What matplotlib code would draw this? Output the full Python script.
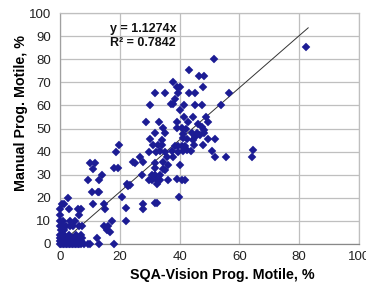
import matplotlib
matplotlib.use("Agg")
import matplotlib.pyplot as plt
import numpy as np

plt.rcParams['font.family'] = ['Liberation Sans', 'DejaVu Sans']

# Data (SQA-Vision %, Manual %)
sqa_x = [
    0, 0.5, 1, 1.5, 2, 2.5, 3, 3.5, 4, 4.5, 5, 5.5, 6, 6.5, 7, 8, 9.2, 10.1, 13.1, 18.1,
    0, 0.5, 1, 2, 3, 4, 5, 6, 7,
    0, 1, 2, 4, 5, 6, 7.5, 12.3,
    0, 0.5, 1.5, 3, 5.5, 7, 16.6,
    0.5, 1.2, 15.6,
    0, 1, 2, 3.3, 4.5, 6.2, 7.3, 14.6, 16,
    0, 1, 3.4, 5.1, 17.3, 22.1,
    0, 6.2,
    0, 2.9, 6.1, 7, 15, 22.1, 27.9,
    0.6, 1.2, 11.2, 14.6, 27.9, 31.8, 32.5,
    2.6, 20.6, 39.9,
    10.6, 12.8, 13.2,
    22.3, 22.9, 23.4, 32.3,
    9.2, 13, 29.9, 30.7, 32.3, 33.4, 36.2, 39, 40.7, 41.8,
    14, 27.3, 30.7, 31.8, 33.4, 35.1,
    11, 18.2, 19.5, 34.5, 31.8, 36.2, 40,
    10, 11.7, 24.5, 25.1, 27.9, 31.8, 34.5,
    26.6, 35.7, 37.7, 52, 55.6, 64.1,
    18.8, 29.9, 32.1, 33.4, 35.1, 37.4, 39.6, 41.2, 42.4, 43.8, 51, 64.4,
    19.7, 31.2, 32.9, 34, 38.5, 39.6, 40.7, 41.8, 44.9, 47.9,
    30.1, 34, 41, 42.4, 44.6, 49.6, 51.8,
    31.9, 35, 45.2, 46.8, 45.9, 48.3, 41.2, 44,
    34.3, 39, 40.7, 47.6, 42, 48,
    28.8, 33, 39, 42.8, 49.4, 46,
    41.6, 44.4, 48.9,
    40.1,
    30.1, 37, 37.7, 41.6, 45.3, 47.4, 54,
    38.4,
    31.9, 35, 39.6, 43.1, 45.3, 56.4,
    39, 40.1, 47.9,
    37.9,
    46.4, 48,
    43.3,
    51.4,
    82.4,
]
manual_y = [
    0, 0, 0, 0, 0, 0, 0, 0, 0, 0, 0, 0, 0, 0, 0, 0, 0, 0, 0, 0,
    1.5, 1.5, 1.5, 1.5, 1.5, 1.5, 1.5, 1.5, 1.5,
    2.5, 2.5, 2.5, 2.5, 2.5, 2.5, 2.5, 2.5,
    4, 4, 4, 4, 4, 4, 5,
    6, 6, 6,
    7.8, 7.8, 7.8, 7.8, 7.8, 7.8, 7.8, 7.8, 7.8,
    10, 10, 10, 10, 10, 10,
    12.5, 12.5,
    15, 15, 15, 15, 15, 15.5, 15,
    17.5, 17.5, 17.5, 17.5, 17.5, 17.8, 17.8,
    20, 20.5, 20.5,
    22.5, 22.5, 22.5,
    26, 25, 25.5, 26,
    27.5, 27.5, 27.5, 27.5, 27.5, 27.8, 27.5, 28, 27.5, 27.7,
    30, 30, 30, 30, 30, 32,
    32.5, 32.8, 32.8, 32.5, 32.8, 34.2, 34,
    35, 35, 35.5, 35, 35.5, 35, 35.5,
    37.5, 37.8, 37.5, 37.5, 37.5, 37.8,
    40, 40, 40, 40.3, 40, 40.3, 40, 40.3, 40.5, 40.3, 40.3, 40.5,
    42.8, 42.8, 42.8, 42.8, 42.4, 42.4, 42.4, 42.4, 42.8, 42.8,
    45.5, 45, 46, 45.5, 45, 45.5, 45.5,
    47.9, 47.9, 46.4, 47.2, 47.9, 47.9, 47.5, 48,
    50.4, 50.4, 50.4, 50.8, 50, 49.5,
    52.9, 52.9, 52.9, 53, 53, 52,
    55.1, 55.1, 55.1,
    58,
    60.3, 60.4, 60.4, 60.2, 60.2, 60.2, 60.2,
    62.8,
    65.2, 65.2, 65.2, 65.2, 65.2, 65.2,
    67.8, 67.8, 68,
    70.2,
    72.7, 72.7,
    75.3,
    80.1,
    85.1,
]

slope = 1.1274
r2 = 0.7842
fit_x = [0, 83]
x_ticks = [0, 20, 40, 60, 80, 100]
y_ticks = [0, 10, 20, 30, 40, 50, 60, 70, 80, 90, 100]

fig = plt.figure(figsize=(3.66, 2.82), dpi=100)
ax = fig.add_axes([60/366, 38/282, 299/366, 231/282])

ax.set_xlim(0, 100)
ax.set_ylim(0, 100)
ax.set_xticks(x_ticks)
ax.set_yticks(y_ticks)
ax.grid(True, color='#bfbfbf', linewidth=0.9)
ax.set_axisbelow(True)
for s in ax.spines.values():
    s.set_color('#bfbfbf')
    s.set_linewidth(0.9)
ax.spines['bottom'].set_color('#888888')
ax.spines['left'].set_color('#a0a0a0')
ax.tick_params(length=0, labelsize=9.5, colors='#222222')
ax.tick_params(axis='y', pad=6.5)
ax.tick_params(axis='x', pad=5)

fx = np.array(fit_x, dtype=float)
ax.plot(fx, slope * fx, color='#333333', linewidth=0.7, zorder=2)

ax.plot(sqa_x, manual_y, linestyle='none', marker='D', markersize=3.9,
        markerfacecolor='#1C1C94', markeredgecolor='#1C1C94',
        markeredgewidth=0.3, zorder=3, clip_on=False)

ax.text(16.7, 93, f"y = {slope}x", fontsize=9, fontweight='bold',
        va='center', ha='left', color='#111111')
ax.text(16.7, 87, f"R² = {r2}", fontsize=9, fontweight='bold',
        va='center', ha='left', color='#111111')

ax.set_xlabel("SQA-Vision Prog. Motile, %", fontsize=10.3, fontweight='bold')
ax.set_ylabel("Manual Prog. Motile, %", fontsize=10.3, fontweight='bold')
ax.xaxis.set_label_coords(0.542, -0.105)
ax.yaxis.set_label_coords(-0.107, 0.565)

fig.savefig("out.png", dpi=100)
